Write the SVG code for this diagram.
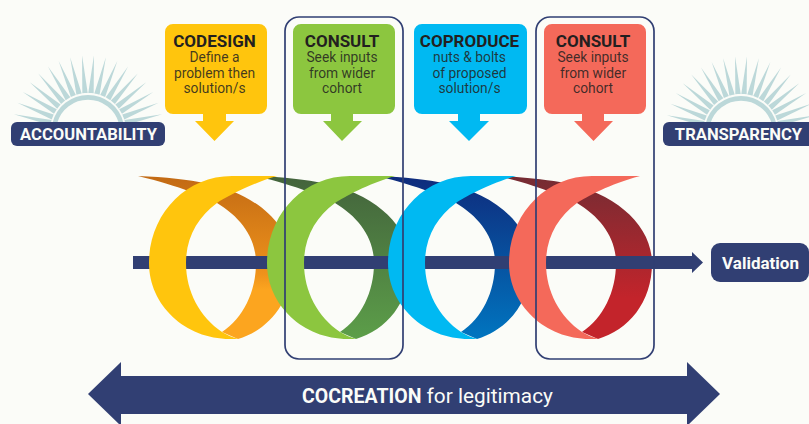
<svg xmlns="http://www.w3.org/2000/svg" xmlns:xlink="http://www.w3.org/1999/xlink" width="809" height="424" viewBox="0 0 809 424">
<style>
text{font-family:Roboto,"Liberation Sans",sans-serif;text-anchor:middle}
.pill{fill:#313f73}
.pt{fill:#fbfcf8;font-weight:700;font-size:16.6px}
.tt{fill:#231f20;font-weight:700;font-size:17px}
.bt{fill:#231f20;fill-opacity:.85;font-size:13.8px}
.ray{fill:#bcd8d9}
.frame{fill:none;stroke:#313f73;stroke-width:1.7}
</style>
<defs>
<linearGradient id="g1" x1="0" y1="0" x2="0" y2="1"><stop offset="0" stop-color="#c26a14"/><stop offset=".6" stop-color="#ee921b"/><stop offset=".7" stop-color="#fca51f"/><stop offset="1" stop-color="#fca51f"/></linearGradient>
<linearGradient id="g2" x1="0" y1="0" x2="0" y2="1"><stop offset="0" stop-color="#43633c"/><stop offset="1" stop-color="#5c9e49"/></linearGradient>
<linearGradient id="g3" x1="0" y1="0" x2="0" y2="1"><stop offset="0" stop-color="#0f2b7c"/><stop offset="1" stop-color="#0075c0"/></linearGradient>
<linearGradient id="g4" x1="0" y1="0" x2="0" y2="1"><stop offset="0" stop-color="#742c33"/><stop offset=".75" stop-color="#c3242b"/><stop offset="1" stop-color="#c3242b"/></linearGradient>
<path id="back" d="M138,176 C165,177 190,180 205,183 C255,193 292,225 292,263 C292,303 268,330 238,339 L222,332 C243,318 256,292 256,263 C256,237 240,217 217,203 C207,198 180,186 138,176 Z"/>
<path id="front" d="M277,176 L232,176 C185,176 149,215 149,263 C149,305 185,339 230,339 L238,339 C232,337 227,335 222,332 C200,317 186,292 186,263 C186,237 198,217 217,203 C226,197 250,184 277,176 Z"/>
<polygon id="r" class="ray" points="0,-38 2.700,-38 0,-76 -2.700,-38"/>
<g id="sun">
<path class="ray" d="M-35.500,-8 A36.500 36.500 0 0 1 35.500,-8 L30.800,-8 A32 32 0 0 0 -30.800,-8 Z"/>
<use xlink:href="#r" href="#r" transform="rotate(4.5)"/><use xlink:href="#r" href="#r" transform="rotate(-4.5)"/>
<use xlink:href="#r" href="#r" transform="rotate(13.6)"/><use xlink:href="#r" href="#r" transform="rotate(-13.6)"/>
<use xlink:href="#r" href="#r" transform="rotate(22.7)"/><use xlink:href="#r" href="#r" transform="rotate(-22.7)"/>
<use xlink:href="#r" href="#r" transform="rotate(31.8)"/><use xlink:href="#r" href="#r" transform="rotate(-31.8)"/>
<use xlink:href="#r" href="#r" transform="rotate(40.9)"/><use xlink:href="#r" href="#r" transform="rotate(-40.9)"/>
<use xlink:href="#r" href="#r" transform="rotate(50)"/><use xlink:href="#r" href="#r" transform="rotate(-50)"/>
<use xlink:href="#r" href="#r" transform="rotate(59.1)"/><use xlink:href="#r" href="#r" transform="rotate(-59.1)"/>
<use xlink:href="#r" href="#r" transform="rotate(68.2)"/><use xlink:href="#r" href="#r" transform="rotate(-68.2)"/>
<use xlink:href="#r" href="#r" transform="rotate(77.3)"/><use xlink:href="#r" href="#r" transform="rotate(-77.3)"/>
</g>
</defs>
<rect width="809" height="424" fill="#fbfcf8"/>

<g id="accountability">
<use xlink:href="#sun" href="#sun" transform="translate(88,131)"/>
<rect class="pill" x="11" y="122" width="154" height="24" rx="6"/>
<text class="pt" x="88.500" y="140">ACCOUNTABILITY</text>
</g>
<g id="transparency">
<use xlink:href="#sun" href="#sun" transform="translate(741,132)"/>
<rect class="pill" x="663" y="122" width="160" height="24" rx="6"/>
<text class="pt" x="738.500" y="140">TRANSPARENCY</text>
</g>

<g id="coil-backs">
<use xlink:href="#back" href="#back" fill="url(#g1)"/>
<use xlink:href="#back" href="#back" fill="url(#g2)" transform="translate(118,0)"/>
<use xlink:href="#back" href="#back" fill="url(#g3)" transform="translate(239,0)"/>
<use xlink:href="#back" href="#back" fill="url(#g4)" transform="translate(360,0)"/>
</g>

<g id="connectors">
<polygon class="pill" points="133,256 692,256 692,252 703,262.5 692,273 692,269 133,269"/>
</g>

<g id="coil-fronts">
<use xlink:href="#front" href="#front" fill="#ffc50d"/>
<use xlink:href="#front" href="#front" fill="#8cc63f" transform="translate(118,0)"/>
<use xlink:href="#front" href="#front" fill="#00b9f2" transform="translate(239,0)"/>
<path fill="#f4695a" transform="translate(360,0)" d="M280,176 L232,176 C185,176 149,215 149,263 C149,305 185,339 230,339 L238,339 C232,337 227,335 222,332 C200,317 186,292 186,263 C186,237 198,217 217,203 C226,197 250,184 280,176 Z"/>
</g>

<g id="codesign">
<path fill="#ffc50d" d="M173,24 H259 A8 8 0 0 1 267,32 V106 A8 8 0 0 1 259,114 H226 V121 H234 L214.500,141 L195,121 H203 V114 H173 A8 8 0 0 1 165,106 V32 A8 8 0 0 1 173,24 Z"/>
<text class="tt" x="214.500" y="46.500">CODESIGN</text>
<text class="bt" x="214.500" y="62">Define a</text>
<text class="bt" x="214.500" y="77.500">problem then</text>
<text class="bt" x="214.500" y="93">solution/s</text>
</g>
<g id="consult-1">
<path fill="#8cc63f" d="M301,24 H387 A8 8 0 0 1 395,32 V106 A8 8 0 0 1 387,114 H353 V121 H362 L342,141 L323,121 H331 V114 H301 A8 8 0 0 1 293,106 V32 A8 8 0 0 1 301,24 Z"/>
<text class="tt" x="342" y="46.500">CONSULT</text>
<text class="bt" x="342" y="62">Seek inputs</text>
<text class="bt" x="342" y="77.500">from wider</text>
<text class="bt" x="342" y="93">cohort</text>
<rect class="frame" x="285" y="17" width="118" height="342" rx="14"/>
</g>
<g id="coproduce">
<path fill="#00b9f2" d="M422,24 H519 A8 8 0 0 1 527,32 V106 A8 8 0 0 1 519,114 H480 V121 H489 L469,141 L449,121 H458 V114 H422 A8 8 0 0 1 414,106 V32 A8 8 0 0 1 422,24 Z"/>
<text class="tt" x="469.500" y="46.500">COPRODUCE</text>
<text class="bt" x="469.500" y="62">nuts &amp; bolts</text>
<text class="bt" x="469.500" y="77.500">of proposed</text>
<text class="bt" x="469.500" y="93">solution/s</text>
</g>
<g id="consult-2">
<path fill="#f4695a" d="M552,24 H638 A8 8 0 0 1 646,32 V106 A8 8 0 0 1 638,114 H604 V121 H613 L593.500,141 L574,121 H582 V114 H552 A8 8 0 0 1 544,106 V32 A8 8 0 0 1 552,24 Z"/>
<text class="tt" x="593" y="46.500">CONSULT</text>
<text class="bt" x="593" y="62">Seek inputs</text>
<text class="bt" x="593" y="77.500">from wider</text>
<text class="bt" x="593" y="93">cohort</text>
<rect class="frame" x="536" y="17" width="118" height="342" rx="14"/>
</g>

<g id="validation">
<rect class="pill" x="711" y="243" width="98" height="39" rx="9"/>
<text class="pt" x="760.500" y="268.500" style="font-size:17px">Validation</text>
</g>

<g id="cocreation">
<polygon class="pill" points="88,394 121,362 121,376 687,376 687,362 720,394 687,426 687,414 121,414 121,426"/>
<text x="427.500" y="403" fill="#fbfcf8" font-size="20.8"><tspan font-weight="700" font-size="19.5">COCREATION</tspan> for legitimacy</text>
</g>
</svg>
